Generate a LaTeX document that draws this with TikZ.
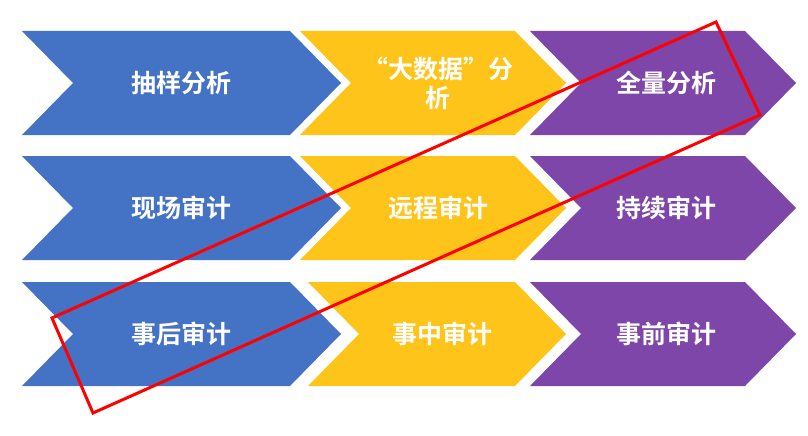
\documentclass[tikz,border=0pt]{standalone}
\usepackage{fontspec}
\newfontfamily\cjk{Noto Sans CJK SC}[BoldFont={Noto Sans CJK SC Bold}]
\usetikzlibrary{positioning}
\definecolor{chblue}{HTML}{4472C4}
\definecolor{chyellow}{HTML}{FFC419}
\definecolor{chpurple}{HTML}{7E46A8}
\tikzset{
  chtext/.style={text=white, font=\cjk\bfseries\fontsize{25}{29}\selectfont, align=center},
  frame/.style={draw=red, line width=3pt}
}
% chevron: left x, top y, flat width, colour, name, text shift, text
\newcommand{\chevron}[7]{%
  \fill[#4] (#1,#2) -- ++(#3,0) -- ++(51,52) -- ++(-51,52) -- ++(-#3,0) -- ++(51,-52) -- cycle;
  \node[chtext] (#5) at ({#1+#6},{#2+52}) {#7};
}
\begin{document}
\begin{tikzpicture}[x=1pt,y=-1pt]
  \useasboundingbox (0,0) rectangle (808,436);
  % row 1
  \chevron{22}{31}{268}{chblue}{cy}{159}{抽样分析}
  \chevron{300}{31}{215}{chyellow}{dsj}{138}{“大数据”分\\析}
  \chevron{530}{31}{215}{chpurple}{ql}{136}{全量分析}
  % row 2
  \chevron{22}{156}{268}{chblue}{xc}{159}{现场审计}
  \chevron{300}{156}{215}{chyellow}{yc}{138}{远程审计}
  \chevron{530}{156}{215}{chpurple}{cx}{136}{持续审计}
  % row 3
  \chevron{22}{282}{268}{chblue}{sh}{159}{事后审计}
  \chevron{308}{282}{207}{chyellow}{sz}{134}{事中审计}
  \chevron{530}{282}{215}{chpurple}{sq}{136}{事前审计}
  % red frame
  \coordinate (r1) at (52,318);
  \coordinate (r2) at (93,413);
  \coordinate (r3) at (760,115);
  \coordinate (r4) at (716,22);
  \draw[frame] (r1) -- (r2) -- (r3) -- (r4) -- cycle;
\end{tikzpicture}
\end{document}
